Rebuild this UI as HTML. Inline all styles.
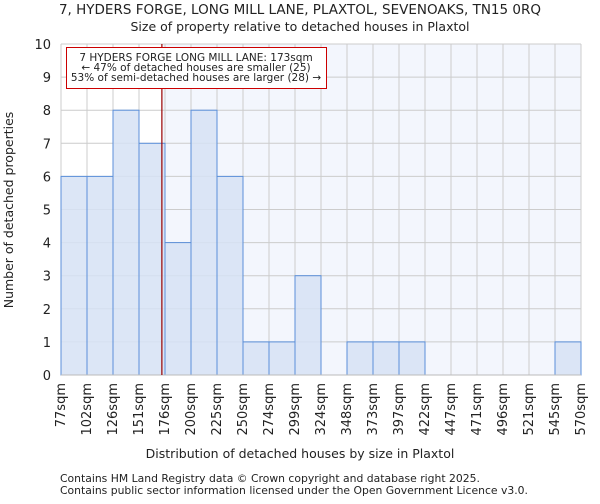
<!DOCTYPE html>
<html><head><meta charset="utf-8"><style>
body{margin:0;background:#fff;font-family:"DejaVu Sans","Liberation Sans",sans-serif}
svg text{font-family:"DejaVu Sans","Liberation Sans",sans-serif;fill:#222}
</style></head><body>
<svg id="c" width="600" height="500" xmlns="http://www.w3.org/2000/svg">
<text x="300" y="14" text-anchor="middle" font-size="13.5">7, HYDERS FORGE, LONG MILL LANE, PLAXTOL, SEVENOAKS, TN15 0RQ</text>
<text x="300" y="31" text-anchor="middle" font-size="12.5">Size of property relative to detached houses in Plaxtol</text>
<g id="plot"></g>
<text x="300" y="458" text-anchor="middle" font-size="12.5">Distribution of detached houses by size in Plaxtol</text>
<text transform="translate(13,210) rotate(-90)" text-anchor="middle" font-size="12.5">Number of detached properties</text>
<text x="60" y="482" font-size="10.8" fill="#333">Contains HM Land Registry data © Crown copyright and database right 2025.</text>
<text x="60" y="494" font-size="10.8" fill="#333">Contains public sector information licensed under the Open Government Licence v3.0.</text>
</svg>
<script>
const categories=["77sqm","102sqm","126sqm","151sqm","176sqm","200sqm","225sqm","250sqm","274sqm","299sqm","324sqm","348sqm","373sqm","397sqm","422sqm","447sqm","471sqm","496sqm","521sqm","545sqm","570sqm"];
const binEdges=[77,102,126,151,176,200,225,250,274,299,324,348,373,397,422,447,471,496,521,545,570];
const counts=[6,6,8,7,4,8,6,1,1,3,0,1,1,1,0,0,0,0,0,1];
const yTicks=[0,1,2,3,4,5,6,7,8,9,10];
const propertySize=173;
const NS="http://www.w3.org/2000/svg";
const X0=61,X1=581,Y0=375,Y1=44,nb=counts.length,bw=(X1-X0)/nb;
const xIdx=i=>X0+i*bw;
const xVal=v=>{for(let i=0;i<binEdges.length-1;i++){if(v<=binEdges[i+1])return xIdx(i)+bw*(v-binEdges[i])/(binEdges[i+1]-binEdges[i]);}return X1;};
const y=v=>Y0-(Y0-Y1)*v/10;
const g=document.getElementById('plot');
function mk(t,a){const e=document.createElementNS(NS,t);for(const k in a)e.setAttribute(k,a[k]);g.appendChild(e);return e;}
const px=xVal(propertySize);
let e=mk('rect',{x:X0,y:Y1,width:px-X0,height:Y0-Y1,fill:'#ffffff'});


e=mk('rect',{x:px,y:Y1,width:X1-px,height:Y0-Y1,fill:'#f3f6fd'});


yTicks.forEach(t=>{
 e=mk('line',{x1:X0,x2:X1,y1:y(t),y2:y(t),stroke:'#cccccc','stroke-width':1});
 
 
 e=mk('text',{x:X0-10,y:y(t)+5,'text-anchor':'end','font-size':13});
 e.textContent=t;
 
 
});
for(let i=0;i<=nb;i++){
 e=mk('line',{x1:xIdx(i),x2:xIdx(i),y1:Y1,y2:Y0,stroke:'#cccccc','stroke-width':1});
 
 
}
counts.forEach((c,i)=>{
 if(c<=0)return;
 e=mk('rect',{x:xIdx(i),y:y(c),width:bw,height:Y0-y(c),fill:'#d6e2f4','fill-opacity':0.85,stroke:'#5b8fd9','stroke-width':1});
 
 
});
categories.forEach((c,i)=>{
 const xx=xIdx(i)+4;
 e=mk('text',{transform:`translate(${xx},${Y0+8}) rotate(-90)`,'text-anchor':'end','font-size':13});
 e.textContent=c;
 
 
});
e=mk('line',{x1:X0,x2:X1,y1:Y0,y2:Y0,stroke:'#bbbbbb'});


e=mk('line',{x1:px,x2:px,y1:Y1,y2:Y0,stroke:'#990000','stroke-width':1.2});


e=mk('rect',{x:66.5,y:47.5,width:260,height:41,fill:'#fff',stroke:'#cc0000','stroke-width':1});


const lines=["7 HYDERS FORGE LONG MILL LANE: 173sqm","← 47% of detached houses are smaller (25)","53% of semi-detached houses are larger (28) →"];
lines.forEach((l,i)=>{
 e=mk('text',{x:196,y:61+i*10,'text-anchor':'middle','font-size':10.5});
 e.textContent=l;
 
 
});
</script>
</body></html>
